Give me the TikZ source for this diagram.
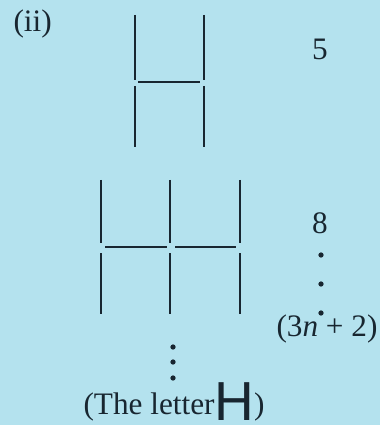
\documentclass[tikz,border=0pt]{standalone}
\usepackage{fontspec}
\setmainfont{Liberation Serif}
\newfontfamily\letterfont{Liberation Sans}
\usepackage{tikz}
\usetikzlibrary{positioning}
\definecolor{paleblue}{RGB}{180,226,238}
\definecolor{stickdark}{RGB}{24,38,48}
\tikzset{
  stick/.style={line width=1.15pt, draw=stickdark},
  lbl/.style={inner sep=0pt, anchor=base, font=\fontsize{12.5}{15}\selectfont, text=stickdark},
  dotmark/.style={circle, fill=stickdark, inner sep=0pt, minimum size=2.1pt}
}

\begin{document}
\begin{tikzpicture}[x=0.4pt, y=-0.4pt]
  % Background
  \fill[paleblue] (0,0) rectangle (380,425);
  \clip (0,0) rectangle (380,425);

  % Labels
  \node[lbl, anchor=base west] (partii) at (13,32) {(ii)};
  \node[lbl] (countfive) at (320,60) {5};
  \node[lbl] (counteight) at (320,233) {8};
  \node[lbl, anchor=base west] (countgen) at (276,336) {(3\textit{n} + 2)};
  \node[lbl, anchor=base west] (caption) at (83,414)
    {(The letter{\raisebox{-2.4pt}{\letterfont\fontsize{22}{23}\selectfont H}})};

  % First H: 5 sticks
  \foreach \x in {135,204} {
    \draw[stick] (\x,15) -- (\x,80);
    \draw[stick] (\x,86) -- (\x,147);
  }
  \draw[stick] (138,82) -- (200,82);

  % Second H: 8 sticks
  \foreach \x in {101,170,240} {
    \draw[stick] (\x,180) -- (\x,243);
    \draw[stick] (\x,253) -- (\x,314);
  }
  \draw[stick] (105,247) -- (167,247);
  \draw[stick] (175,247) -- (236,247);

  % Dots
  \foreach \y in {255,284,313}
    \node[dotmark] at (321,\y) {};
  \foreach \y in {347,362,378}
    \node[dotmark] at (173,\y) {};
\end{tikzpicture}
\end{document}
